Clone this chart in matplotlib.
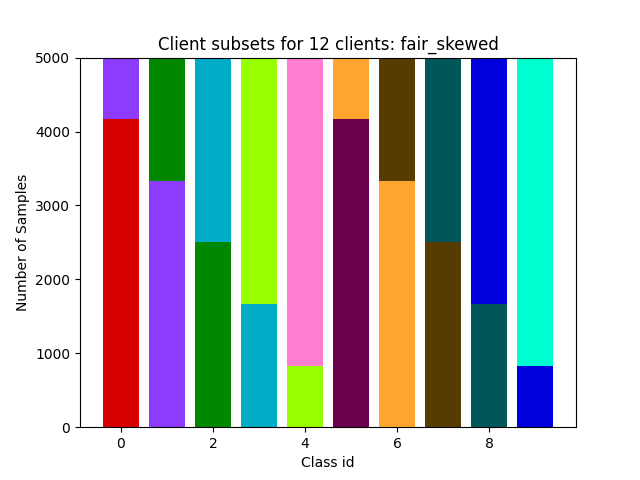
import matplotlib
matplotlib.use("Agg")
import matplotlib.pyplot as plt

# client colours (glasbey-like)
client_colors = ['#d60000', '#8c3bff', '#018700', '#00acc6', '#97ff00', '#ff7ed1',
                 '#6b004f', '#ffa52f', '#573b00', '#005659', '#0000dd', '#00fdcf']

class_ids = list(range(10))
# per class: which clients hold samples, bottom to top, and how many
seg_clients = [[0, 1], [1, 2], [2, 3], [3, 4], [4, 5],
               [6, 7], [7, 8], [8, 9], [9, 10], [10, 11]]
seg_counts = [[4167, 833], [3333, 1667], [2500, 2500], [1667, 3333], [833, 4167],
              [4167, 833], [3333, 1667], [2500, 2500], [1667, 3333], [833, 4167]]

fig, ax = plt.subplots(figsize=(6.4, 4.8), dpi=100)
for cid, clients, counts in zip(class_ids, seg_clients, seg_counts):
    bottom = 0
    for cl, n in zip(clients, counts):
        ax.bar(cid, n, bottom=bottom, color=client_colors[cl])
        bottom += n

ax.set_ylim(0, 5000)
ax.set_xlabel('Class id')
ax.set_ylabel('Number of Samples')
ax.set_title('Client subsets for 12 clients: fair_skewed')
fig.savefig('out.png')
